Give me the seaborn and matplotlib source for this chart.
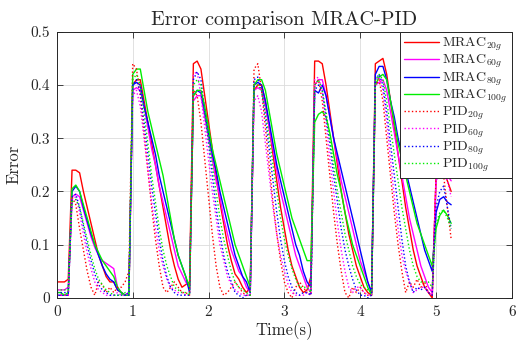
import numpy as np
import pandas as pd
import matplotlib
matplotlib.use("Agg")
import matplotlib.pyplot as plt
import seaborn as sns

# time grid, 0.05 s step
t = np.round(np.arange(0, 5.2001, 0.05), 2)

# each series: 4 pre-pulse values, six 16-point cycles, 5 values of the last pulse
mrac_20 = [0.03, 0.03, 0.03, 0.035,
           0.24, 0.24, 0.235, 0.20, 0.17, 0.14, 0.11, 0.08, 0.06, 0.04, 0.03, 0.03, 0.015, 0.01, 0.005, 0.005,
           0.40, 0.41, 0.41, 0.37, 0.33, 0.29, 0.25, 0.21, 0.17, 0.13, 0.09, 0.06, 0.035, 0.02, 0.025, 0.03,
           0.44, 0.445, 0.43, 0.38, 0.33, 0.28, 0.23, 0.18, 0.14, 0.10, 0.07, 0.045, 0.035, 0.02, 0.01, 0.02,
           0.39, 0.40, 0.40, 0.37, 0.32, 0.27, 0.22, 0.17, 0.13, 0.09, 0.06, 0.04, 0.02, 0.01, 0.015, 0.04,
           0.445, 0.445, 0.44, 0.40, 0.35, 0.30, 0.25, 0.20, 0.16, 0.12, 0.09, 0.06, 0.04, 0.02, 0.01, 0.005,
           0.44, 0.445, 0.45, 0.42, 0.37, 0.32, 0.27, 0.22, 0.17, 0.13, 0.09, 0.06, 0.04, 0.02, 0.01, 0.0,
           0.225, 0.235, 0.235, 0.22, 0.20]
mrac_60 = [0.015, 0.015, 0.015, 0.02,
           0.19, 0.195, 0.19, 0.165, 0.14, 0.115, 0.095, 0.08, 0.07, 0.065, 0.06, 0.055, 0.02, 0.01, 0.005, 0.01,
           0.39, 0.395, 0.39, 0.36, 0.32, 0.28, 0.25, 0.21, 0.18, 0.15, 0.12, 0.09, 0.06, 0.045, 0.03, 0.02,
           0.37, 0.38, 0.38, 0.34, 0.30, 0.26, 0.22, 0.19, 0.15, 0.12, 0.09, 0.07, 0.05, 0.04, 0.02, 0.01,
           0.39, 0.395, 0.39, 0.36, 0.32, 0.28, 0.24, 0.20, 0.17, 0.14, 0.11, 0.08, 0.06, 0.04, 0.02, 0.01,
           0.40, 0.41, 0.41, 0.38, 0.34, 0.30, 0.26, 0.22, 0.19, 0.16, 0.13, 0.10, 0.07, 0.05, 0.03, 0.01,
           0.40, 0.405, 0.41, 0.39, 0.35, 0.31, 0.27, 0.23, 0.19, 0.15, 0.12, 0.09, 0.06, 0.04, 0.02, 0.01,
           0.22, 0.235, 0.235, 0.23, 0.22]
mrac_80 = [0.005, 0.005, 0.005, 0.005,
           0.20, 0.21, 0.20, 0.17, 0.145, 0.12, 0.10, 0.08, 0.06, 0.045, 0.035, 0.03, 0.015, 0.01, 0.005, 0.01,
           0.40, 0.405, 0.40, 0.36, 0.33, 0.30, 0.27, 0.23, 0.20, 0.17, 0.14, 0.11, 0.08, 0.06, 0.04, 0.01,
           0.38, 0.39, 0.385, 0.35, 0.31, 0.27, 0.24, 0.20, 0.17, 0.14, 0.11, 0.08, 0.06, 0.04, 0.03, 0.01,
           0.40, 0.405, 0.40, 0.37, 0.33, 0.29, 0.25, 0.22, 0.19, 0.16, 0.13, 0.10, 0.08, 0.05, 0.03, 0.02,
           0.39, 0.385, 0.40, 0.38, 0.34, 0.30, 0.27, 0.24, 0.21, 0.18, 0.15, 0.12, 0.09, 0.06, 0.03, 0.01,
           0.42, 0.435, 0.435, 0.41, 0.37, 0.34, 0.30, 0.27, 0.24, 0.21, 0.18, 0.15, 0.12, 0.09, 0.07, 0.05,
           0.16, 0.185, 0.19, 0.18, 0.175]
mrac_100 = [0.01, 0.01, 0.005, 0.01,
            0.205, 0.212, 0.20, 0.175, 0.15, 0.125, 0.10, 0.085, 0.07, 0.06, 0.05, 0.04, 0.02, 0.01, 0.005, 0.005,
            0.42, 0.43, 0.43, 0.39, 0.35, 0.32, 0.29, 0.26, 0.23, 0.19, 0.15, 0.11, 0.08, 0.06, 0.04, 0.02,
            0.38, 0.39, 0.39, 0.36, 0.32, 0.28, 0.25, 0.22, 0.19, 0.16, 0.13, 0.10, 0.08, 0.06, 0.04, 0.02,
            0.40, 0.41, 0.41, 0.39, 0.35, 0.31, 0.27, 0.24, 0.21, 0.18, 0.15, 0.13, 0.11, 0.09, 0.07, 0.07,
            0.33, 0.345, 0.35, 0.34, 0.31, 0.27, 0.23, 0.20, 0.16, 0.13, 0.10, 0.08, 0.06, 0.04, 0.02, 0.005,
            0.40, 0.415, 0.42, 0.41, 0.37, 0.33, 0.29, 0.26, 0.23, 0.20, 0.17, 0.14, 0.12, 0.10, 0.08, 0.06,
            0.13, 0.155, 0.165, 0.155, 0.14]
pid_20 = [0.005, 0.005, 0.005, 0.005,
          0.19, 0.175, 0.13, 0.09, 0.05, 0.02, 0.005, 0.03, 0.025, 0.01, 0.02, 0.01, 0.02, 0.02, 0.03, 0.05,
          0.44, 0.43, 0.38, 0.31, 0.24, 0.17, 0.11, 0.06, 0.02, 0.01, 0.02, 0.03, 0.02, 0.01, 0.01, 0.005,
          0.39, 0.38, 0.33, 0.26, 0.19, 0.12, 0.06, 0.02, 0.005, 0.01, 0.02, 0.03, 0.02, 0.01, 0.005, 0.005,
          0.43, 0.44, 0.39, 0.32, 0.25, 0.18, 0.12, 0.07, 0.03, 0.01, 0.0, 0.02, 0.03, 0.02, 0.01, 0.005,
          0.40, 0.41, 0.37, 0.30, 0.23, 0.16, 0.10, 0.05, 0.01, 0.0, 0.02, 0.01, 0.02, 0.01, 0.005, 0.005,
          0.40, 0.41, 0.37, 0.30, 0.23, 0.16, 0.10, 0.05, 0.01, 0.03, 0.02, 0.035, 0.02, 0.03, 0.01, 0.005,
          0.23, 0.24, 0.23, 0.17, 0.11]
pid_60 = [0.005, 0.005, 0.005, 0.005,
          0.185, 0.19, 0.16, 0.12, 0.085, 0.055, 0.03, 0.015, 0.01, 0.005, 0.005, 0.005, 0.01, 0.005, 0.005, 0.01,
          0.38, 0.39, 0.36, 0.30, 0.24, 0.18, 0.13, 0.09, 0.06, 0.035, 0.02, 0.015, 0.01, 0.01, 0.005, 0.005,
          0.42, 0.425, 0.38, 0.32, 0.26, 0.20, 0.15, 0.10, 0.07, 0.04, 0.025, 0.015, 0.01, 0.005, 0.005, 0.005,
          0.37, 0.38, 0.35, 0.29, 0.23, 0.17, 0.12, 0.08, 0.05, 0.025, 0.01, 0.005, 0.005, 0.005, 0.01, 0.005,
          0.41, 0.415, 0.39, 0.33, 0.26, 0.20, 0.14, 0.09, 0.05, 0.02, 0.01, 0.02, 0.02, 0.01, 0.005, 0.005,
          0.41, 0.415, 0.39, 0.33, 0.26, 0.19, 0.13, 0.08, 0.05, 0.03, 0.01, 0.015, 0.02, 0.02, 0.01, 0.005,
          0.22, 0.24, 0.235, 0.22, 0.19]
pid_80 = [0.01, 0.01, 0.01, 0.01,
          0.19, 0.195, 0.17, 0.135, 0.10, 0.07, 0.045, 0.025, 0.015, 0.01, 0.005, 0.005, 0.005, 0.005, 0.005, 0.005,
          0.40, 0.41, 0.385, 0.33, 0.27, 0.21, 0.16, 0.11, 0.07, 0.04, 0.02, 0.01, 0.005, 0.005, 0.005, 0.005,
          0.41, 0.425, 0.41, 0.35, 0.29, 0.23, 0.17, 0.12, 0.08, 0.05, 0.03, 0.01, 0.005, 0.0, 0.005, 0.005,
          0.41, 0.415, 0.39, 0.34, 0.28, 0.22, 0.16, 0.11, 0.07, 0.04, 0.02, 0.01, 0.005, 0.01, 0.01, 0.005,
          0.39, 0.40, 0.39, 0.34, 0.29, 0.23, 0.18, 0.13, 0.09, 0.06, 0.035, 0.015, 0.005, 0.005, 0.0, 0.005,
          0.41, 0.42, 0.40, 0.35, 0.29, 0.23, 0.17, 0.11, 0.06, 0.03, 0.01, 0.02, 0.015, 0.02, 0.01, 0.005,
          0.17, 0.20, 0.21, 0.17, 0.13]
pid_100 = [0.015, 0.015, 0.015, 0.015,
           0.18, 0.185, 0.17, 0.14, 0.11, 0.08, 0.055, 0.035, 0.025, 0.015, 0.01, 0.005, 0.005, 0.005, 0.01, 0.01,
           0.41, 0.42, 0.40, 0.35, 0.29, 0.23, 0.18, 0.13, 0.09, 0.06, 0.04, 0.02, 0.015, 0.01, 0.01, 0.005,
           0.40, 0.41, 0.40, 0.35, 0.30, 0.25, 0.20, 0.15, 0.11, 0.08, 0.05, 0.03, 0.02, 0.015, 0.01, 0.005,
           0.40, 0.40, 0.39, 0.35, 0.30, 0.25, 0.20, 0.15, 0.11, 0.08, 0.055, 0.035, 0.02, 0.02, 0.02, 0.01,
           0.40, 0.41, 0.39, 0.35, 0.30, 0.25, 0.20, 0.16, 0.12, 0.09, 0.06, 0.04, 0.025, 0.02, 0.015, 0.01,
           0.41, 0.42, 0.41, 0.37, 0.32, 0.27, 0.22, 0.17, 0.13, 0.09, 0.06, 0.04, 0.03, 0.03, 0.03, 0.02,
           0.14, 0.16, 0.165, 0.15, 0.13]

labels = [r'MRAC$_{20g}$', r'MRAC$_{60g}$', r'MRAC$_{80g}$', r'MRAC$_{100g}$',
          r'PID$_{20g}$', r'PID$_{60g}$', r'PID$_{80g}$', r'PID$_{100g}$']
series = [mrac_20, mrac_60, mrac_80, mrac_100, pid_20, pid_60, pid_80, pid_100]
colors = ['#ff0000', '#ff00ff', '#0000ff', '#00ee00'] * 2
styles = ['-'] * 4 + [':'] * 4

sns.set_style("ticks")
plt.rcParams['font.family'] = ['cmr10', 'DejaVu Serif']
plt.rcParams['mathtext.fontset'] = 'cm'
plt.rcParams['axes.unicode_minus'] = False
plt.rcParams['axes.formatter.use_mathtext'] = True

fig = plt.figure(figsize=(5.17, 3.42), dpi=100)
ax = fig.add_axes([0.110, 0.129, 0.880, 0.778])

for lab, vals, c, ls in zip(labels, series, colors, styles):
    df = pd.DataFrame({'Time': t, 'Error': vals})
    sns.lineplot(data=df, x='Time', y='Error', color=c, linestyle=ls,
                 linewidth=1.0, label=lab, ax=ax)

ax.set_xlim(0, 6)
ax.set_ylim(0, 0.5)
ax.set_xticks(range(7))
ax.set_xticklabels([str(i) for i in range(7)])
ax.set_yticks([0, 0.1, 0.2, 0.3, 0.4, 0.5])
ax.set_yticklabels(['0', '0.1', '0.2', '0.3', '0.4', '0.5'])
ax.grid(True, color='#dcdcdc', linewidth=0.6)
ax.set_axisbelow(True)
ax.tick_params(direction='in', length=4, width=0.6, top=True, right=True,
               labelsize=11, colors='#262626', pad=5)
for s in ax.spines.values():
    s.set_visible(True)
    s.set_linewidth(0.7)
    s.set_color('#262626')

ax.set_title('Error comparison MRAC-PID', fontsize=14.5, pad=5)
ax.set_xlabel('Time(s)', fontsize=12, labelpad=2)
ax.set_ylabel('Error', fontsize=12, labelpad=6)

leg = ax.legend(loc='upper right', borderaxespad=0, fancybox=False, framealpha=1,
                edgecolor='#262626', fontsize=10, handlelength=2.5, handletextpad=0.25,
                labelspacing=0.0, borderpad=0.3)
leg.get_frame().set_linewidth(0.7)

fig.savefig('out.png', dpi=100)
